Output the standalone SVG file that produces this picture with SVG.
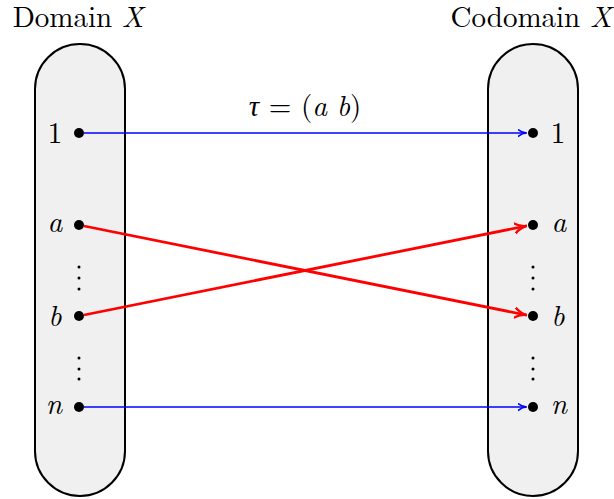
<svg xmlns="http://www.w3.org/2000/svg" width="614" height="499" viewBox="0 0 614 499">
<style>
.box{fill:#f0f0f0;stroke:#000;stroke-width:2}
.t{font-family:"Latin Modern Roman","Liberation Serif",serif;font-size:29px;fill:#000}
.m{font-family:"Latin Modern Roman","Liberation Serif",serif;font-style:italic;font-size:29px;fill:#000}
.blue{stroke:#0000ff;stroke-width:1.6;fill:none}
.red{stroke:#ff0000;stroke-width:2.8;fill:none}
</style>
<defs>
<marker id="ab" viewBox="0 0 10 10" refX="9" refY="5" markerWidth="9" markerHeight="9" markerUnits="userSpaceOnUse" orient="auto">
<path d="M0,1 Q5,5 10,5 Q5,5 0,9" fill="none" stroke="#0000ff" stroke-width="1.6"/>
</marker>
<marker id="ar" viewBox="0 0 10 10" refX="9" refY="5" markerWidth="13" markerHeight="13" markerUnits="userSpaceOnUse" orient="auto">
<path d="M0,1 Q5,5 10,5 Q5,5 0,9" fill="none" stroke="#ff0000" stroke-width="1.8"/>
</marker>
</defs>
<g id="domain">
<rect class="box" x="35" y="44" width="90" height="452" rx="45" ry="45"/>
<text class="t" x="78" y="27" text-anchor="middle">Domain <tspan class="m">X</tspan></text>
<circle cx="79" cy="133" r="5"/><text class="t" x="55" y="143" text-anchor="middle">1</text>
<circle cx="79" cy="225" r="5"/><text class="m" x="55" y="232" text-anchor="middle">a</text>
<circle cx="79" cy="316" r="5"/><text class="m" x="55" y="326" text-anchor="middle">b</text>
<circle cx="79" cy="407" r="5"/><text class="m" x="54" y="414" text-anchor="middle">n</text>
<circle cx="79" cy="267" r="1.5"/><circle cx="79" cy="278" r="1.5"/><circle cx="79" cy="289" r="1.5"/>
<circle cx="79" cy="358" r="1.5"/><circle cx="79" cy="369" r="1.5"/><circle cx="79" cy="379" r="1.5"/>
</g>
<g id="codomain">
<rect class="box" x="488" y="44" width="90" height="452" rx="45" ry="45"/>
<text class="t" x="531" y="27" text-anchor="middle">Codomain <tspan class="m">X</tspan></text>
<circle cx="533" cy="133" r="5"/><text class="t" x="558" y="143" text-anchor="middle">1</text>
<circle cx="533" cy="225" r="5"/><text class="m" x="559" y="232" text-anchor="middle">a</text>
<circle cx="533" cy="316" r="5"/><text class="m" x="558" y="326" text-anchor="middle">b</text>
<circle cx="533" cy="407" r="5"/><text class="m" x="559" y="414" text-anchor="middle">n</text>
<circle cx="533" cy="267" r="1.5"/><circle cx="533" cy="278" r="1.5"/><circle cx="533" cy="289" r="1.5"/>
<circle cx="533" cy="358" r="1.5"/><circle cx="533" cy="369" r="1.5"/><circle cx="533" cy="379" r="1.5"/>
</g>
<g id="connectors">
<line class="blue" x1="84" y1="133" x2="526" y2="133" marker-end="url(#ab)"/>
<line class="blue" x1="84" y1="407" x2="526" y2="407" marker-end="url(#ab)"/>
<line class="red" x1="84" y1="226" x2="526" y2="315" marker-end="url(#ar)"/>
<line class="red" x1="84" y1="315" x2="526" y2="226" marker-end="url(#ar)"/>
<text class="t" x="305" y="116" text-anchor="middle" xml:space="preserve"><tspan class="m">τ</tspan> = (<tspan class="m">a</tspan> <tspan class="m">b</tspan>)</text>
</g>
</svg>
